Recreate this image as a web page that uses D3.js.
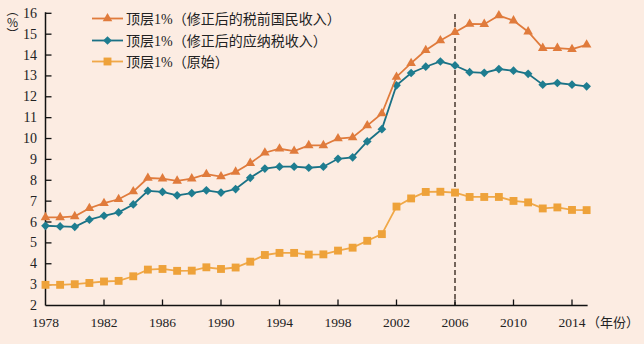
<!DOCTYPE html>
<html><head><meta charset="utf-8">
<script src="https://cdn.jsdelivr.net/npm/d3@7"></script>
<style>
html,body{margin:0;padding:0;background:#fcece2;}
svg{display:block;}
</style></head>
<body>
<script>
const years = [1978,1979,1980,1981,1982,1983,1984,1985,1986,1987,1988,1989,1990,1991,1992,1993,1994,1995,1996,1997,1998,1999,2000,2001,2002,2003,2004,2005,2006,2007,2008,2009,2010,2011,2012,2013,2014,2015];
const pretax = [6.22,6.22,6.27,6.66,6.90,7.09,7.46,8.11,8.08,7.97,8.08,8.29,8.18,8.40,8.82,9.32,9.51,9.40,9.67,9.67,10.0,10.05,10.62,11.2,12.95,13.61,14.23,14.7,15.09,15.49,15.48,15.89,15.65,15.12,14.33,14.33,14.28,14.49];
const taxable = [5.82,5.79,5.77,6.11,6.30,6.46,6.84,7.49,7.44,7.28,7.38,7.52,7.41,7.58,8.12,8.56,8.65,8.65,8.60,8.65,9.03,9.10,9.86,10.45,12.55,13.14,13.44,13.69,13.5,13.18,13.15,13.33,13.25,13.1,12.58,12.66,12.58,12.5];
const original = [2.99,2.99,3.02,3.08,3.15,3.18,3.40,3.72,3.75,3.66,3.67,3.83,3.75,3.82,4.10,4.42,4.52,4.52,4.44,4.45,4.63,4.77,5.10,5.42,6.74,7.13,7.44,7.45,7.41,7.2,7.2,7.2,7.01,6.94,6.65,6.70,6.58,6.57];
const xTickYears = [1978,1982,1986,1990,1994,1998,2002,2006,2010,2014];
const yTicks = [2,3,4,5,6,7,8,9,10,11,12,13,14,15,16];
const seriesNames = ["顶层1%（修正后的税前国民收入）","顶层1%（修正后的应纳税收入）","顶层1%（原始）"];
const markerYear = 2006;

const W = 644, H = 344;
const font = "'Liberation Serif','Noto Sans CJK SC',serif";
const svg = d3.select("body").append("svg").attr("width", W).attr("height", H);
svg.append("rect").attr("width", W).attr("height", H).attr("fill", "#fcece2");

const x = d3.scaleLinear().domain([1978, 2014]).range([45.5, 572]);
const y = d3.scaleLinear().domain([2, 16]).range([305.5, 13.3]);
const x0 = x(1978), xEnd = x(2015) + 1;

// dashed 2006 line
svg.append("line").attr("x1", x(markerYear)).attr("x2", x(markerYear))
  .attr("y1", 14).attr("y2", y(2)).attr("stroke", "#3b2b22").attr("stroke-width", 1.4)
  .attr("stroke-dasharray", "5,3");

// axes
const axisG = svg.append("g");
axisG.append("line").attr("x1", x0).attr("x2", x0).attr("y1", y(16) - 1).attr("y2", y(2))
  .attr("stroke", "#111").attr("stroke-width", 1.5);
axisG.append("line").attr("x1", x0).attr("x2", xEnd).attr("y1", y(2)).attr("y2", y(2))
  .attr("stroke", "#111").attr("stroke-width", 1.5);

yTicks.forEach(t => {
  if (t > 2) axisG.append("line").attr("x1", x0).attr("x2", x0 + 6).attr("y1", y(t)).attr("y2", y(t))
    .attr("stroke", "#111").attr("stroke-width", 1.3);
  axisG.append("text").attr("x", 37).attr("y", y(t) + 4.5).attr("text-anchor", "end")
    .attr("font-family", font).attr("font-size", 14).attr("fill", "#222").text(t);
});
xTickYears.forEach(t => {
  if (t > 1978) axisG.append("line").attr("x1", x(t)).attr("x2", x(t)).attr("y1", y(2)).attr("y2", y(2) - 6)
    .attr("stroke", "#111").attr("stroke-width", 1.3);
  axisG.append("text").attr("x", x(t)).attr("y", 327).attr("text-anchor", "middle")
    .attr("font-family", font).attr("font-size", 13.5).attr("fill", "#222").text(t);
});
axisG.append("text").attr("x", 587).attr("y", 327).attr("font-family", font)
  .attr("font-size", 13).attr("fill", "#222").text("（年份）");

// y unit label (vertical)
svg.append("text").attr("x", 12.5).attr("y", 22).attr("text-anchor", "middle")
  .style("writing-mode", "vertical-rl").style("text-orientation", "upright")
  .attr("font-family", "'Noto Sans CJK SC',sans-serif").attr("font-size", 12)
  .attr("fill", "#222").text("（%）");

const series = [
  {name: seriesNames[0], values: pretax, line: "#e07b3c", fill: "#e07b3c", sym: d3.symbolTriangle, size: 40, rot: 0},
  {name: seriesNames[1], values: taxable, line: "#1a7185", fill: "#1e7d90", sym: d3.symbolSquare, size: 38, rot: 45},
  {name: seriesNames[2], values: original, line: "#f0a848", fill: "#eea23a", sym: d3.symbolSquare, size: 62, rot: 0}
];

const lineGen = d3.line().x((d, i) => x(years[i])).y(d => y(d));

series.slice().reverse().forEach(s => {
  const g = svg.append("g");
  g.append("path").datum(s.values).attr("d", lineGen).attr("fill", "none")
    .attr("stroke", s.line).attr("stroke-width", 1.8);
  g.selectAll("path.m").data(s.values).enter().append("path").attr("class", "m")
    .attr("d", d3.symbol().type(s.sym).size(s.size))
    .attr("transform", (d, i) => `translate(${x(years[i])},${y(d)}) rotate(${s.rot})`)
    .attr("fill", s.fill);
});

// legend
const legY = [18.5, 40.5, 61.5];
series.forEach((s, i) => {
  const g = svg.append("g");
  g.append("line").attr("x1", 92).attr("x2", 123).attr("y1", legY[i]).attr("y2", legY[i])
    .attr("stroke", s.line).attr("stroke-width", 1.8);
  g.append("path").attr("d", d3.symbol().type(s.sym).size(s.size))
    .attr("transform", `translate(107.5,${legY[i]}) rotate(${s.rot})`).attr("fill", s.fill);
  g.append("text").attr("x", 126).attr("y", legY[i] + 5).attr("font-family", font)
    .attr("font-size", 14).attr("fill", "#222").text(s.name);
});
</script>
</body></html>
